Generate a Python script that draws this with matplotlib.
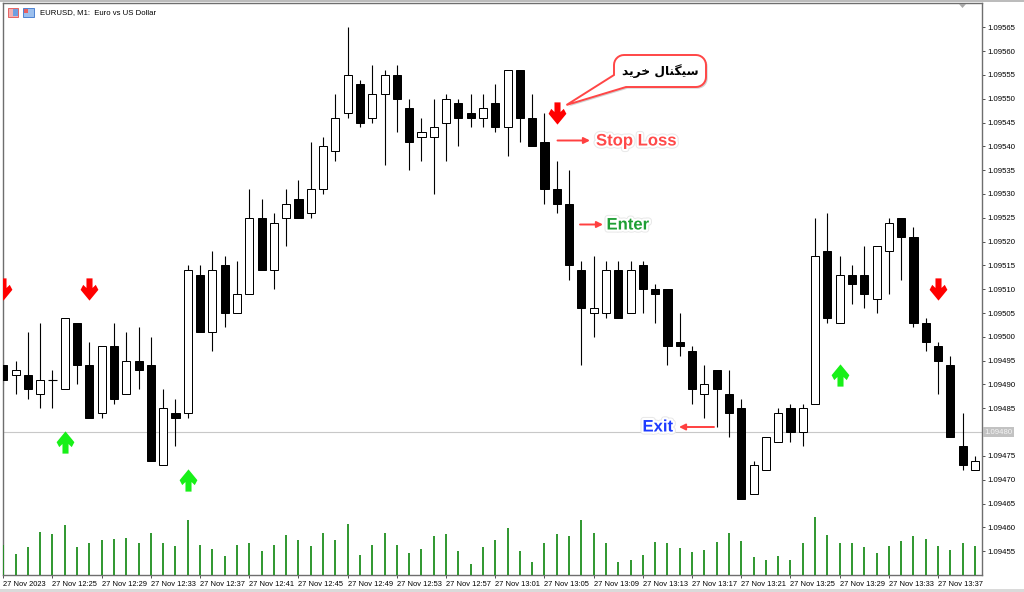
import matplotlib
matplotlib.use("Agg")
import matplotlib.pyplot as plt
import matplotlib.transforms as mtransforms
import matplotlib.patheffects as pe
from matplotlib.path import Path
from matplotlib.patches import PathPatch, FancyArrowPatch, Rectangle, Polygon
import numpy as np

# ---------------- data (EURUSD M1, 27 Nov 2023 12:21 - 13:40) ----------------
opens = [1.09494, 1.09492, 1.09492, 1.09488, 1.09491, 1.09489, 1.09503, 1.09494, 1.09484, 1.09498,
         1.09488, 1.09495, 1.09494, 1.09473, 1.09484, 1.09484, 1.09513, 1.09501, 1.09515, 1.09505,
         1.09509, 1.09525, 1.09514, 1.09525, 1.09529, 1.09526, 1.09531, 1.09539, 1.09547, 1.09553,
         1.09546, 1.09551, 1.09555, 1.09548, 1.09542, 1.09542, 1.09545, 1.09549, 1.09547, 1.09546,
         1.09549, 1.09544, 1.09556, 1.09546, 1.09541, 1.09531, 1.09528, 1.09514, 1.09505, 1.09505,
         1.09514, 1.09505, 1.09515, 1.09510, 1.09510, 1.09499, 1.09497, 1.09488, 1.09493, 1.09488,
         1.09485, 1.09467, 1.09472, 1.09478, 1.09485, 1.09480, 1.09486, 1.09518, 1.09503, 1.09513,
         1.09513, 1.09508, 1.09518, 1.09525, 1.09521, 1.09503, 1.09498, 1.09494, 1.09477, 1.09472]
highs = [1.09495, 1.09495, 1.09501, 1.09503, 1.09493, 1.09504, 1.09503, 1.09499, 1.09498, 1.09503,
         1.09501, 1.09502, 1.09500, 1.09489, 1.09487, 1.09515, 1.09515, 1.09518, 1.09517, 1.09516,
         1.09531, 1.09529, 1.09526, 1.09531, 1.09533, 1.09541, 1.09542, 1.09551, 1.09565, 1.09554,
         1.09557, 1.09556, 1.09557, 1.09550, 1.09546, 1.09550, 1.09551, 1.09550, 1.09551, 1.09551,
         1.09553, 1.09556, 1.09556, 1.09551, 1.09547, 1.09537, 1.09535, 1.09516, 1.09517, 1.09516,
         1.09516, 1.09516, 1.09516, 1.09511, 1.09510, 1.09505, 1.09498, 1.09494, 1.09493, 1.09493,
         1.09487, 1.09474, 1.09479, 1.09485, 1.09486, 1.09486, 1.09525, 1.09526, 1.09517, 1.09515,
         1.09519, 1.09519, 1.09525, 1.09525, 1.09523, 1.09504, 1.09499, 1.09496, 1.09484, 1.09475]
lows = [1.09490, 1.09488, 1.09487, 1.09485, 1.09485, 1.09489, 1.09490, 1.09483, 1.09483, 1.09486,
        1.09488, 1.09489, 1.09474, 1.09473, 1.09477, 1.09483, 1.09501, 1.09497, 1.09502, 1.09505,
        1.09509, 1.09514, 1.09510, 1.09519, 1.09525, 1.09525, 1.09530, 1.09537, 1.09546, 1.09544,
        1.09545, 1.09536, 1.09543, 1.09535, 1.09537, 1.09530, 1.09537, 1.09540, 1.09544, 1.09544,
        1.09543, 1.09538, 1.09541, 1.09540, 1.09528, 1.09526, 1.09512, 1.09494, 1.09500, 1.09504,
        1.09504, 1.09505, 1.09505, 1.09503, 1.09494, 1.09496, 1.09486, 1.09483, 1.09481, 1.09479,
        1.09466, 1.09467, 1.09472, 1.09478, 1.09478, 1.09477, 1.09486, 1.09503, 1.09503, 1.09507,
        1.09506, 1.09505, 1.09509, 1.09512, 1.09502, 1.09497, 1.09488, 1.09479, 1.09472, 1.09472]
closes = [1.09491, 1.09493, 1.09489, 1.09491, 1.09491, 1.09504, 1.09494, 1.09483, 1.09498, 1.09487,
          1.09495, 1.09493, 1.09474, 1.09485, 1.09483, 1.09514, 1.09501, 1.09514, 1.09505, 1.09509,
          1.09525, 1.09514, 1.09524, 1.09528, 1.09525, 1.09531, 1.09540, 1.09546, 1.09555, 1.09545,
          1.09551, 1.09555, 1.09550, 1.09541, 1.09543, 1.09544, 1.09550, 1.09546, 1.09546, 1.09548,
          1.09544, 1.09556, 1.09546, 1.09540, 1.09531, 1.09528, 1.09515, 1.09506, 1.09506, 1.09514,
          1.09504, 1.09514, 1.09510, 1.09509, 1.09498, 1.09498, 1.09489, 1.09490, 1.09489, 1.09484,
          1.09466, 1.09473, 1.09479, 1.09484, 1.09480, 1.09485, 1.09517, 1.09504, 1.09513, 1.09511,
          1.09509, 1.09519, 1.09524, 1.09521, 1.09503, 1.09499, 1.09495, 1.09479, 1.09473, 1.09474]
tick_volume = [30, 21, 28, 43, 41, 50, 28, 32, 35, 36,
               37, 32, 42, 32, 29, 55, 30, 26, 19, 30,
               32, 24, 30, 40, 35, 29, 42, 35, 51, 20,
               30, 42, 30, 22, 26, 39, 41, 24, 11, 28,
               35, 47, 24, 13, 32, 41, 39, 55, 42, 32,
               13, 15, 20, 33, 32, 27, 23, 25, 33, 42,
               34, 18, 15, 19, 15, 32, 58, 40, 32, 32,
               28, 22, 29, 34, 39, 36, 29, 25, 32, 29]

sell_idx = [0, 7, 45, 76]
sell_price = [1.09510, 1.09510, 1.09547, 1.09510]
buy_idx = [5, 15, 68]
buy_price = [1.09478, 1.09470, 1.09492]

current_price = 1.09480
price_ticks = [1.09455, 1.09460, 1.09465, 1.09470, 1.09475, 1.09480, 1.09485, 1.09490,
               1.09495, 1.09500, 1.09505, 1.09510, 1.09515, 1.09520, 1.09525, 1.09530,
               1.09535, 1.09540, 1.09545, 1.09550, 1.09555, 1.09560, 1.09565]
time_tick_idx = [0, 4, 8, 12, 16, 20, 24, 28, 32, 36, 40, 44, 48, 52, 56, 60, 64, 68, 72, 76]
time_labels = ["27 Nov 2023", "27 Nov 12:25", "27 Nov 12:29", "27 Nov 12:33", "27 Nov 12:37",
               "27 Nov 12:41", "27 Nov 12:45", "27 Nov 12:49", "27 Nov 12:53", "27 Nov 12:57",
               "27 Nov 13:01", "27 Nov 13:05", "27 Nov 13:09", "27 Nov 13:13", "27 Nov 13:17",
               "27 Nov 13:21", "27 Nov 13:25", "27 Nov 13:29", "27 Nov 13:33", "27 Nov 13:37"]
title_text = "EURUSD, M1:  Euro vs US Dollar"
# Persian "سیگنال خرید" in presentation forms, visual order
bubble_text = "\uFEAA\uFBFE\uFEAE\uFEA7 \uFEDD\uFE8E\uFEE8\uFB95\uFBFF\uFEB3"

# ---------------- figure ----------------
plt.rcParams['font.family'] = ['Liberation Sans', 'DejaVu Sans']
W, H = 1024, 592
fig = plt.figure(figsize=(W / 100, H / 100), dpi=100)
fig.patch.set_facecolor('white')
px = mtransforms.Affine2D().scale(1 / W, -1 / H).translate(0, 1) + fig.transFigure

ax = fig.add_axes([3 / W, (H - 575) / H, 979 / W, 572 / H])
axv = ax.twinx()
ax.set_xlim(-0.024, 79.57)
ax.set_ylim(1.09450, 1.095701)
axv.set_ylim(0, 572)

x = np.arange(len(opens))
o = np.array(opens); c = np.array(closes)
hi = np.array(highs); lo = np.array(lows)
up = c > o; dn = c < o; dj = c == o
bw = 0.66

ax.vlines(x, lo, hi, color='black', lw=0.8, zorder=2)
ax.bar(x[dn], (o - c)[dn], bottom=c[dn], width=bw, color='black',
       edgecolor='black', linewidth=0.72, zorder=3)
ax.bar(x[up], (c - o)[up], bottom=o[up], width=bw, color='white',
       edgecolor='black', linewidth=0.72, zorder=3)
ax.hlines(c[dj], x[dj] - bw / 2, x[dj] + bw / 2, color='black', lw=0.8, zorder=3)

axv.vlines(x, 0, tick_volume, color='#1f8f1f', lw=1.3)
axv.set_yticks([])
for s in axv.spines.values():
    s.set_visible(False)

# current price line
ax.axhline(current_price, color='#c8c8c8', lw=0.8, zorder=1)

# signal arrows
dv = [(-3, 11), (3, 11), (3, 1.5), (6.2, 4.6), (8.8, -0.3), (0, -11), (-8.8, -0.3), (-6.2, 4.6), (-3, 1.5), (-3, 11)]
codes = [Path.MOVETO] + [Path.LINETO] * 8 + [Path.CLOSEPOLY]
down_arrow = Path(dv, codes)
up_arrow = Path([(a, -b) for a, b in dv], codes)
ax.plot(sell_idx, sell_price, ls='none', marker=down_arrow, ms=16, color='#ff0000',
        mew=0, zorder=6)
ax.plot(buy_idx, buy_price, ls='none', marker=up_arrow, ms=16, color='#18f018',
        mew=0, zorder=6)

# axes styling
ax.yaxis.tick_right()
ax.set_yticks(price_ticks)
ax.set_yticklabels(['' if abs(v - current_price) < 1e-9 else f'{v:.5f}' for v in price_ticks])
ax.set_xticks(time_tick_idx)
ax.set_xticklabels(time_labels)
for lbl in ax.get_xticklabels():
    lbl.set_ha('left')
ax.tick_params(axis='y', length=2.5, width=0.7, color='#505050', labelsize=5.6, pad=1.2)
ax.tick_params(axis='x', length=2.5, width=0.7, color='#505050', labelsize=5.4, pad=1.5)
for s in ax.spines.values():
    s.set_color('#6e6e6e')
    s.set_linewidth(1.0)

ax.text(1.0 + 2.5 / 979, current_price, f'{current_price:.5f}',
        transform=mtransforms.blended_transform_factory(ax.transAxes, ax.transData),
        ha='left', va='center', fontsize=5.6, color='#f4f4f4', clip_on=False,
        bbox=dict(boxstyle='square,pad=0.2', fc='#c2c2c2', ec='none'))

# window borders and title
fig.add_artist(Rectangle((0, 0), W, 2, transform=px, fc='#bcbcbc', ec='none'))
fig.add_artist(Rectangle((0, 589), W, 3, transform=px, fc='#dadada', ec='none'))
fig.add_artist(Rectangle((7.5, 8), 10.5, 8.5, transform=px, fc='#f4b0b0', ec='#e05050', lw=0.6))
fig.add_artist(Rectangle((12.5, 8.5), 5, 7.5, transform=px, fc='#6f9fe0', ec='none'))
fig.add_artist(Rectangle((23, 8), 10.5, 8.5, transform=px, fc='#9cc0ee', ec='#3a74cc', lw=0.6))
fig.add_artist(Rectangle((23.5, 8.5), 4, 4, transform=px, fc='#e86060', ec='none'))
fig.add_artist(Polygon([(959, 4), (966, 4), (962.5, 8)], closed=True, transform=px,
                       fc='#a8a8a8', ec='none'))
fig.text(39.5, 12.5, title_text, transform=px, fontsize=5.6, color='black',
         ha='left', va='center')

# ---------------- annotations ----------------
def bubble(x0, y0, x1, y1, r, tip, a_y, b_x):
    pts = []
    def arc(cx, cy, a0, a1):
        for t in np.linspace(np.radians(a0), np.radians(a1), 8):
            pts.append((cx + r * np.cos(t), cy + r * np.sin(t)))
    arc(x1 - r, y0 + r, -90, 0)
    arc(x1 - r, y1 - r, 0, 90)
    pts.append((b_x, y1))
    pts.append(tip)
    pts.append((x0, a_y))
    arc(x0 + r, y0 + r, 180, 270)
    return Polygon(pts, closed=True)

bub = bubble(614, 55, 706, 87, 10, (566.5, 105), 75, 626)
bub.set_transform(px)
bub.set_facecolor('white')
bub.set_edgecolor('#ff4646')
bub.set_linewidth(1.4)
bub.set_path_effects([pe.withSimplePatchShadow(offset=(1.2, -1.2), alpha=0.25)])
fig.add_artist(bub)
fig.text(660, 71, bubble_text, transform=px, fontsize=8.8, weight='bold',
         family=['DejaVu Sans'], color='black', ha='center', va='center')

halo = [pe.Stroke(linewidth=4.5, foreground='#e9e9e9'),
        pe.Stroke(linewidth=3, foreground='white'), pe.Normal()]

def arrow(p0, p1, color='#ff4040'):
    fig.add_artist(FancyArrowPatch(p0, p1, transform=px, arrowstyle='-|>',
                                   mutation_scale=9, color=color, lw=1.4,
                                   shrinkA=0, shrinkB=0))

arrow((557.5, 140.5), (590, 140.5))
fig.text(596, 141, 'Stop Loss', transform=px, fontsize=12, weight='bold',
         color='#ff4a4a', ha='left', va='center', path_effects=halo)
arrow((580, 224.5), (603, 224.5))
fig.text(606.5, 225, 'Enter', transform=px, fontsize=12, weight='bold',
         color='#1f9f35', ha='left', va='center', path_effects=halo)
arrow((714, 427), (679, 427))
fig.text(673, 427, 'Exit', transform=px, fontsize=12, weight='bold',
         color='#1d3bff', ha='right', va='center', path_effects=halo)

fig.savefig('out.png', dpi=100, facecolor='white')
